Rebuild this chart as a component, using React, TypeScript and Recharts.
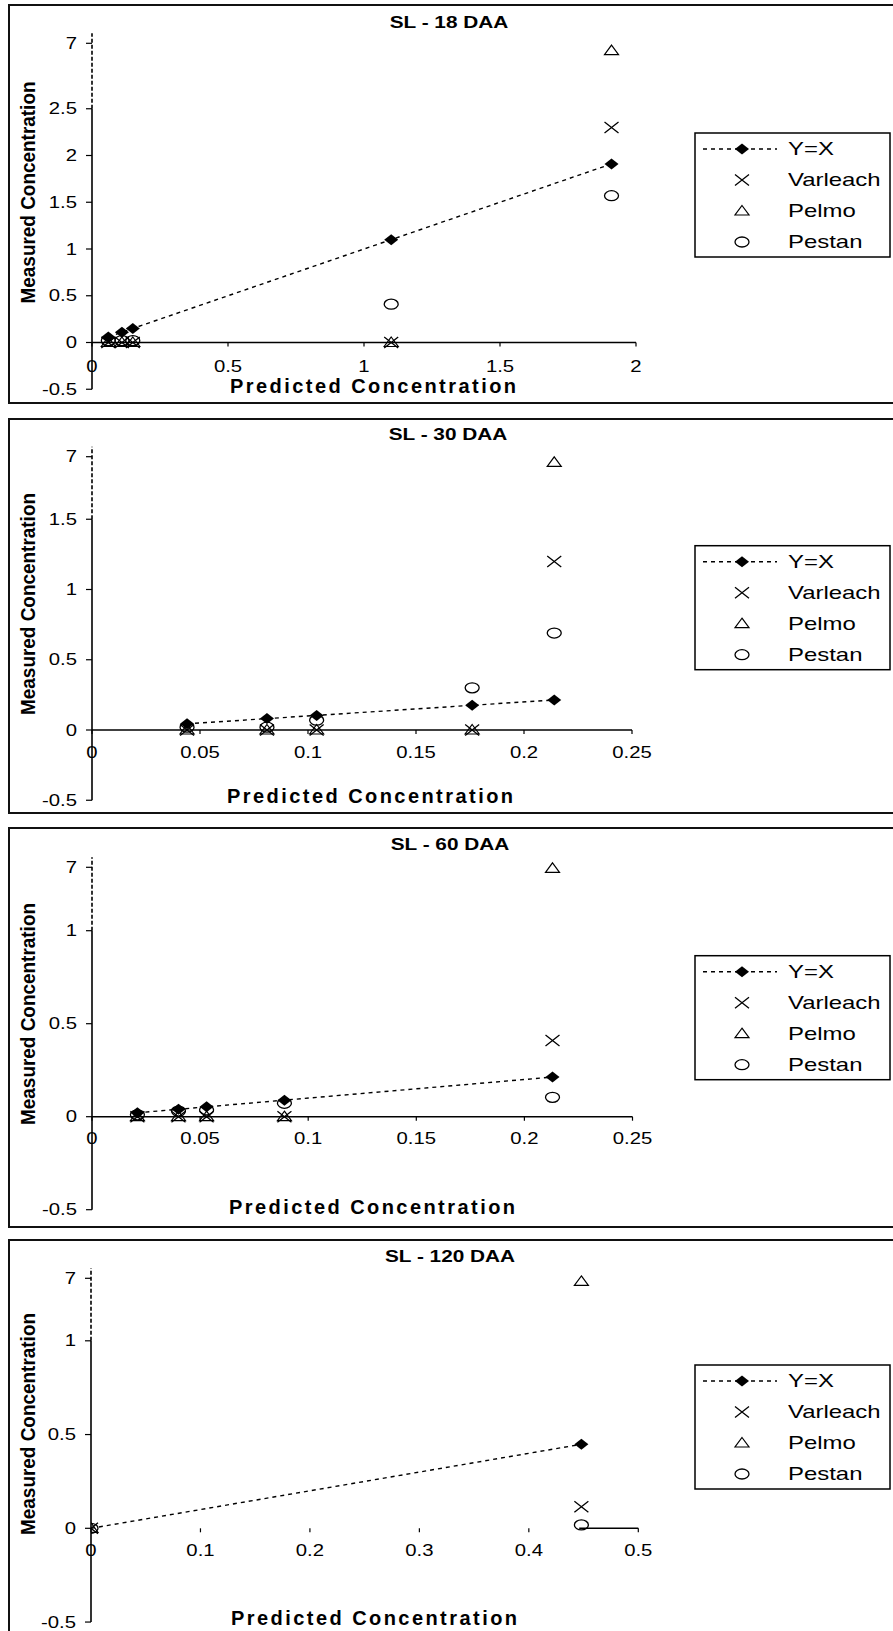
import React from 'react';
import { ScatterChart, Scatter, XAxis, YAxis, ReferenceLine, ReferenceDot } from 'recharts';

const W = 893;
const H = 1631;
const FONT = '"Liberation Sans", Arial, Helvetica, sans-serif';
const STRETCH = 1.33;
const TICK_STRETCH = 1.27;

const seriesNames = ['Y=X', 'Varleach', 'Pelmo', 'Pestan'];

// SL - 18 DAA
const predicted18 = [0.06, 0.11, 0.15, 1.1, 1.91];
const varleach18 = [0, 0, 0, 0, 2.3];
const pelmo18 = [0, 0, 0, 0, 6.5];
const pestan18 = [0.02, 0.02, 0.02, 0.41, 1.57];
const yTicks18 = [-0.5, 0, 0.5, 1, 1.5, 2, 2.5, 7];
const yTickLabels18 = ['-0.5', '0', '0.5', '1', '1.5', '2', '2.5', '7'];
const xTicks18 = [0, 0.5, 1, 1.5, 2];
const xTickLabels18 = ['0', '0.5', '1', '1.5', '2'];

// SL - 30 DAA
const predicted30 = [0.044, 0.081, 0.104, 0.176, 0.214];
const varleach30 = [0, 0, 0, 0, 1.2];
const pelmo30 = [0, 0, 0, 0, 6.5];
const pestan30 = [0.02, 0.02, 0.07, 0.3, 0.69];
const yTicks30 = [-0.5, 0, 0.5, 1, 1.5, 7];
const yTickLabels30 = ['-0.5', '0', '0.5', '1', '1.5', '7'];
const xTicks30 = [0, 0.05, 0.1, 0.15, 0.2, 0.25];
const xTickLabels30 = ['0', '0.05', '0.1', '0.15', '0.2', '0.25'];

// SL - 60 DAA
const predicted60 = [0.021, 0.04, 0.053, 0.089, 0.213];
const varleach60 = [0, 0, 0, 0, 0.41];
const pelmo60 = [0, 0, 0, 0, 6.9];
const pestan60 = [0.01, 0.03, 0.036, 0.072, 0.104];
const yTicks60 = [-0.5, 0, 0.5, 1, 7];
const yTickLabels60 = ['-0.5', '0', '0.5', '1', '7'];
const xTicks60 = [0, 0.05, 0.1, 0.15, 0.2, 0.25];
const xTickLabels60 = ['0', '0.05', '0.1', '0.15', '0.2', '0.25'];

// SL - 120 DAA
const predicted120 = [0, 0.448];
const varleach120 = [0, 0.115];
const pelmo120 = [0, 6.7];
const pestan120 = [0, 0.018];
const yTicks120 = [-0.5, 0, 0.5, 1, 7];
const yTickLabels120 = ['-0.5', '0', '0.5', '1', '7'];
const xTicks120 = [0, 0.1, 0.2, 0.3, 0.4, 0.5];
const xTickLabels120 = ['0', '0.1', '0.2', '0.3', '0.4', '0.5'];

type Panel = {
  title: string;
  predicted: number[];
  varleach: number[];
  pelmo: number[];
  pestan: number[];
  yTicks: number[];
  yTickLabels: string[];
  xTicks: number[];
  xTickLabels: string[];
  breakAt: number;
  axisFrom: number;
  boxTop: number;
  boxBottom: number;
  zeroPx: number;
  ppu: number;
  sevenPx: number;
  plotLeft: number;
  plotRight: number;
  xLabelOffset: number;
  titleX: number;
  titleY: number;
  xTitleX: number;
  xTitleY: number;
  yTitleY: number;
  legendTop: number;
};

const panels: Panel[] = [
  {
    title: 'SL - 18 DAA', predicted: predicted18, varleach: varleach18, pelmo: pelmo18, pestan: pestan18,
    yTicks: yTicks18, yTickLabels: yTickLabels18, xTicks: xTicks18, xTickLabels: xTickLabels18,
    breakAt: 2.5, axisFrom: 0,
    boxTop: 4, boxBottom: 404, zeroPx: 342.5, ppu: 93.5, sevenPx: 43.3, plotLeft: 92, plotRight: 636,
    xLabelOffset: 24, titleX: 449, titleY: 27.5, xTitleX: 373, xTitleY: 392.5, yTitleY: 192.5, legendTop: 133,
  },
  {
    title: 'SL - 30 DAA', predicted: predicted30, varleach: varleach30, pelmo: pelmo30, pestan: pestan30,
    yTicks: yTicks30, yTickLabels: yTickLabels30, xTicks: xTicks30, xTickLabels: xTickLabels30,
    breakAt: 1.5, axisFrom: 0,
    boxTop: 418, boxBottom: 814, zeroPx: 730, ppu: 140.5, sevenPx: 456.7, plotLeft: 92, plotRight: 632,
    xLabelOffset: 22, titleX: 448, titleY: 440, xTitleX: 370, xTitleY: 803.3, yTitleY: 604, legendTop: 545.7,
  },
  {
    title: 'SL - 60 DAA', predicted: predicted60, varleach: varleach60, pelmo: pelmo60, pestan: pestan60,
    yTicks: yTicks60, yTickLabels: yTickLabels60, xTicks: xTicks60, xTickLabels: xTickLabels60,
    breakAt: 1, axisFrom: 0,
    boxTop: 827, boxBottom: 1228, zeroPx: 1116.7, ppu: 186, sevenPx: 867.3, plotLeft: 92, plotRight: 632.5,
    xLabelOffset: 22, titleX: 450, titleY: 850, xTitleX: 372, xTitleY: 1214, yTitleY: 1014, legendTop: 955.7,
  },
  {
    title: 'SL - 120 DAA', predicted: predicted120, varleach: varleach120, pelmo: pelmo120, pestan: pestan120,
    yTicks: yTicks120, yTickLabels: yTickLabels120, xTicks: xTicks120, xTickLabels: xTickLabels120,
    breakAt: 1, axisFrom: 0.446,
    boxTop: 1239, boxBottom: 1645, zeroPx: 1528.3, ppu: 187.5, sevenPx: 1278.3, plotLeft: 91, plotRight: 638.3,
    xLabelOffset: 22, titleX: 450, titleY: 1261.5, xTitleX: 374, xTitleY: 1625, yTitleY: 1424, legendTop: 1365,
  },
];

// ---- marker shapes ----
const diamondPath = (cx: number, cy: number) =>
  `M${cx - 7},${cy} L${cx},${cy - 5.5} L${cx + 7},${cy} L${cx},${cy + 5.5} Z`;
const crossPath = (cx: number, cy: number) =>
  `M${cx - 7},${cy - 5.5} L${cx + 7},${cy + 5.5} M${cx - 7},${cy + 5.5} L${cx + 7},${cy - 5.5}`;
const trianglePath = (cx: number, cy: number) =>
  `M${cx},${cy - 5.5} L${cx + 7},${cy + 4} L${cx - 7},${cy + 4} Z`;

const DiamondShape = (props: any) => {
  const { cx, cy, payload } = props;
  if (cx == null || cy == null) return <g />;
  if (payload && payload.x === 0) return <g />;
  return <path d={diamondPath(cx, cy)} fill="#000" />;
};
const CrossShape = (props: any) => {
  const { cx, cy } = props;
  if (cx == null || cy == null) return <g />;
  return <path d={crossPath(cx, cy)} stroke="#000" strokeWidth={1.3} fill="none" />;
};
const TriangleShape = (props: any) => {
  const { cx, cy } = props;
  if (cx == null || cy == null) return <g />;
  return <path d={trianglePath(cx, cy)} stroke="#000" strokeWidth={1.2} fill="none" />;
};
const RingShape = (props: any) => {
  const { cx, cy } = props;
  if (cx == null || cy == null) return <g />;
  return <ellipse cx={cx} cy={cy} rx={7} ry={5} stroke="#000" strokeWidth={1.3} fill="none" />;
};

const StretchText = ({ x, y, anchor, size, bold, sx, children }: any) => (
  <g transform={`translate(${x},${y}) scale(${sx ?? STRETCH},1)`}>
    <text
      x={0}
      y={0}
      textAnchor={anchor}
      dy="0.35em"
      fontSize={size}
      fontWeight={bold ? 'bold' : 'normal'}
      fontFamily={FONT}
      fill="#000"
    >
      {children}
    </text>
  </g>
);

function PanelChart({ p }: { p: Panel }) {
  const breakPx = p.zeroPx - p.breakAt * p.ppu;
  const display7 = p.breakAt + (breakPx - p.sevenPx) / p.ppu;
  const topDisplay = display7 + 10 / p.ppu;
  const toAxis = (v: number) =>
    v <= p.breakAt ? v : p.breakAt + ((v - p.breakAt) * (display7 - p.breakAt)) / (7 - p.breakAt);
  const plotTop = p.zeroPx - topDisplay * p.ppu;
  const plotBottom = p.zeroPx + 0.5 * p.ppu;
  const height = p.boxBottom - p.boxTop;
  const xMax = p.xTicks[p.xTicks.length - 1];
  const rows = (vals: number[]) => p.predicted.map((x, i) => ({ x, y: toAxis(vals[i]) }));
  const yDisplayTicks = p.yTicks.map(toAxis);

  const yTick = (props: any) => {
    const { x, y, payload } = props;
    const i = yDisplayTicks.findIndex((t) => Math.abs(t - payload.value) < 1e-6);
    return (
      <StretchText x={x} y={y} anchor="end" size={16} sx={TICK_STRETCH}>
        {i >= 0 ? p.yTickLabels[i] : ''}
      </StretchText>
    );
  };

  return (
    <div style={{ position: 'absolute', left: 0, top: p.boxTop, width: W, height }}>
      <ScatterChart
        width={W}
        height={height}
        margin={{ top: plotTop - p.boxTop, bottom: p.boxTop + height - plotBottom, left: 0, right: W - p.plotRight }}
      >
        <XAxis type="number" dataKey="x" domain={[0, xMax]} allowDataOverflow hide />
        <YAxis
          type="number"
          dataKey="y"
          domain={[-0.5, topDisplay]}
          allowDataOverflow
          ticks={yDisplayTicks}
          interval={0}
          width={p.plotLeft}
          axisLine={false}
          tickLine={{ stroke: '#000', strokeWidth: 1.2 }}
          tickSize={6}
          tickMargin={9}
          tick={yTick}
        />
        <ReferenceLine
          segment={[{ x: 0, y: -0.5 }, { x: 0, y: p.breakAt }]}
          stroke="#000"
          strokeWidth={1.6}
          ifOverflow="visible"
        />
        <ReferenceLine
          segment={[{ x: 0, y: p.breakAt }, { x: 0, y: topDisplay }]}
          stroke="#000"
          strokeWidth={1.6}
          strokeDasharray="4 2"
          ifOverflow="visible"
        />
        <ReferenceLine
          segment={[{ x: p.axisFrom, y: 0 }, { x: xMax, y: 0 }]}
          stroke="#000"
          strokeWidth={1.5}
          ifOverflow="visible"
        />
        {p.xTicks.map((t, i) => (
          <ReferenceDot
            key={`xt-${i}`}
            x={t}
            y={0}
            r={1}
            ifOverflow="visible"
            shape={(sp: any) => (
              <g>
                <line x1={sp.cx} y1={sp.cy} x2={sp.cx} y2={sp.cy + 4} stroke="#000" strokeWidth={1.2} />
                <StretchText x={sp.cx} y={sp.cy + p.xLabelOffset} anchor="middle" size={16} sx={TICK_STRETCH}>
                  {p.xTickLabels[i]}
                </StretchText>
              </g>
            )}
          />
        ))}
        <Scatter
          name={seriesNames[0]}
          data={rows(p.predicted)}
          fill="#000"
          line={{ stroke: '#000', strokeWidth: 1.4, strokeDasharray: '4 4' }}
          lineType="joint"
          shape={DiamondShape}
          isAnimationActive={false}
        />
        <Scatter name={seriesNames[1]} data={rows(p.varleach)} fill="#000" shape={CrossShape} isAnimationActive={false} />
        <Scatter name={seriesNames[2]} data={rows(p.pelmo)} fill="#000" shape={TriangleShape} isAnimationActive={false} />
        <Scatter name={seriesNames[3]} data={rows(p.pestan)} fill="#000" shape={RingShape} isAnimationActive={false} />
      </ScatterChart>
    </div>
  );
}

function LegendBox({ top }: { top: number }) {
  const left = 695;
  const symX = 742;
  const textX = 788;
  return (
    <g>
      <rect x={left} y={top} width={195} height={124} fill="#fff" stroke="#000" strokeWidth={1.5} />
      {seriesNames.map((name, i) => {
        const y = top + 16 + 31 * i;
        let sym: React.ReactNode = null;
        if (i === 0) {
          sym = (
            <g>
              <line x1={703} y1={y} x2={777} y2={y} stroke="#000" strokeWidth={1.4} strokeDasharray="4 4" />
              <path d={diamondPath(symX, y)} fill="#000" />
            </g>
          );
        } else if (i === 1) {
          sym = <path d={crossPath(symX, y)} stroke="#000" strokeWidth={1.3} fill="none" />;
        } else if (i === 2) {
          sym = <path d={trianglePath(symX, y)} stroke="#000" strokeWidth={1.2} fill="none" />;
        } else {
          sym = <ellipse cx={symX} cy={y} rx={7} ry={5} stroke="#000" strokeWidth={1.3} fill="none" />;
        }
        return (
          <g key={name}>
            {sym}
            <StretchText x={textX} y={y} anchor="start" size={18}>
              {name}
            </StretchText>
          </g>
        );
      })}
    </g>
  );
}

export default function App() {
  return (
    <div style={{ position: 'absolute', left: 0, top: 0, width: W, height: H, overflow: 'hidden', background: '#fff' }}>
      {panels.map((p, i) => (
        <div
          key={`box-${i}`}
          style={{
            position: 'absolute',
            left: 8,
            top: p.boxTop,
            width: 900,
            height: p.boxBottom - p.boxTop,
            boxSizing: 'border-box',
            borderTop: '2px solid #111',
            borderLeft: '2px solid #111',
            borderBottom: '2px solid #111',
          }}
        />
      ))}
      {panels.map((p, i) => (
        <PanelChart key={`chart-${i}`} p={p} />
      ))}
      <svg
        width={W}
        height={H}
        style={{ position: 'absolute', left: 0, top: 0, pointerEvents: 'none' }}
      >
        {panels.map((p, i) => (
          <g key={`txt-${i}`}>
            <g transform={`translate(${p.titleX},${p.titleY}) scale(1.3,1)`}>
              <text textAnchor="middle" fontSize={16} fontWeight="bold" fontFamily={FONT} fill="#000">
                {p.title}
              </text>
            </g>
            <text
              x={p.xTitleX}
              y={p.xTitleY}
              textAnchor="middle"
              fontSize={20}
              fontWeight="bold"
              fontFamily={FONT}
              fill="#000"
              textLength={286}
              lengthAdjust="spacing"
            >
              Predicted Concentration
            </text>
            <g transform={`translate(28,${p.yTitleY}) scale(1.33,1) rotate(-90)`}>
              <text
                x={0}
                y={0}
                dy="0.35em"
                textAnchor="middle"
                fontSize={15}
                fontWeight="bold"
                fontFamily={FONT}
                fill="#000"
                textLength={222}
                lengthAdjust="spacingAndGlyphs"
              >
                Measured Concentration
              </text>
            </g>
            <LegendBox top={p.legendTop} />
          </g>
        ))}
      </svg>
    </div>
  );
}
